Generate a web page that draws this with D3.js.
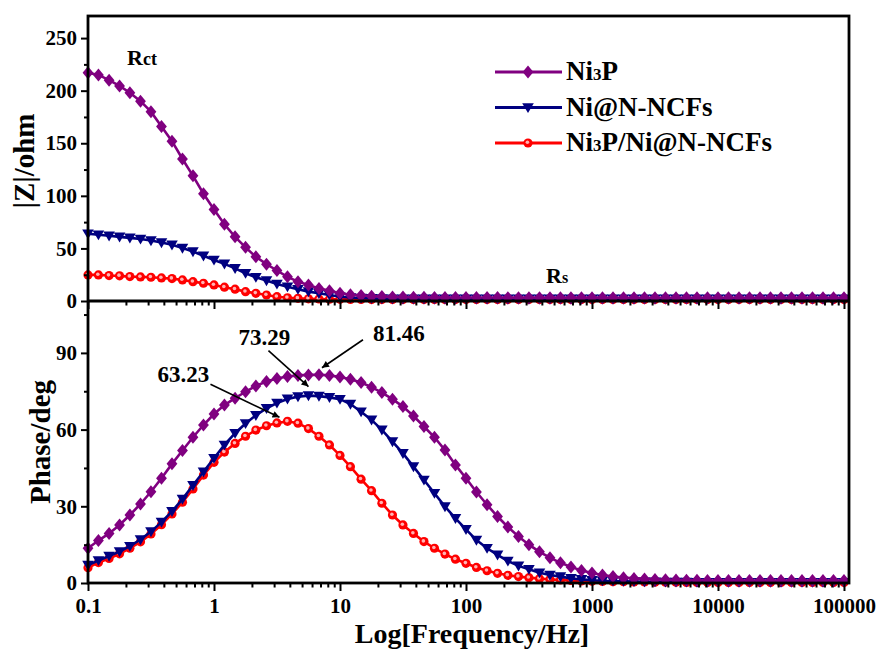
<!DOCTYPE html>
<html>
<head>
<meta charset="utf-8">
<script src="https://cdnjs.cloudflare.com/ajax/libs/d3/7.8.5/d3.min.js"></script>
<style>
  body { margin: 0; background: #fff; }
  svg { display: block; }
  text { font-family: "Liberation Serif", "Times New Roman", serif; font-weight: bold; fill: #000; }
</style>
</head>
<body>
<svg id="chart" width="876" height="659"></svg>
<script>
// frequencies, 12 points per decade (0.1 Hz .. 100 kHz)
const freq = [
  0.1, 0.121, 0.147, 0.178, 0.215, 0.261, 0.316, 0.383, 0.464, 0.562, 0.681, 0.825,
  1, 1.21, 1.47, 1.78, 2.15, 2.61, 3.16, 3.83, 4.64, 5.62, 6.81, 8.25,
  10, 12.1, 14.7, 17.8, 21.5, 26.1, 31.6, 38.3, 46.4, 56.2, 68.1, 82.5,
  100, 121, 147, 178, 215, 261, 316, 383, 464, 562, 681, 825,
  1000, 1211, 1468, 1778, 2154, 2610, 3162, 3831, 4642, 5623, 6813, 8254,
  10000, 12115, 14678, 17783, 21544, 26102, 31623, 38312, 46416, 56234, 68129, 82540,
  100000
];

// |Z| (ohm)
const zNi3P = [
  217, 215, 210, 204.5, 198, 190, 180, 166, 152, 135, 119, 102,
  87, 73, 61, 51, 42, 35, 29, 23, 18.4, 15.3, 12, 9.8,
  7.3, 6.0, 5.2, 4.6, 4.2, 3.9, 3.7, 3.6, 3.5, 3.4, 3.4, 3.3,
  3.3, 3.3, 3.3, 3.3, 3.2, 3.2, 3.2, 3.2, 3.2, 3.2, 3.2, 3.2,
  3.2, 3.2, 3.1, 3.1, 3.1, 3.1, 3.1, 3.1, 3.1, 3.1, 3.1, 3.1,
  3.1, 3.1, 3.1, 3.0, 3.0, 3.0, 3.0, 3.0, 3.0, 3.0, 3.0, 3.0,
  3.0
];
const zNiNCF = [
  64, 63, 62, 61, 60, 59, 57.5, 55.6, 53.4, 50.3, 47, 43,
  39, 35.3, 31, 26.4, 22.6, 19.4, 16.2, 13.6, 11.2, 8.9, 7.3, 5.7,
  4.1, 3.3, 2.8, 2.5, 2.3, 2.2, 2.1, 2.1, 2.0, 2.0, 2.0, 2.0,
  2.0, 2.0, 2.0, 2.0, 2.0, 2.0, 2.0, 2.0, 2.0, 2.0, 2.0, 2.0,
  2.0, 2.0, 2.0, 2.0, 2.0, 2.0, 2.0, 2.0, 2.0, 2.0, 2.0, 2.0,
  2.0, 2.0, 2.0, 2.0, 2.0, 2.0, 2.0, 2.0, 2.0, 2.0, 2.0, 2.0,
  2.0
];
const zComposite = [
  24.8, 24.8, 24.2, 23.9, 23.2, 22.9, 22.6, 21.9, 21.3, 20, 18.4, 16.9,
  15.3, 13.1, 11.2, 8.9, 7.3, 5.7, 4.1, 3.1, 2.5, 2.1, 1.9, 1.7,
  1.6, 1.5, 1.5, 1.4, 1.4, 1.4, 1.4, 1.4, 1.4, 1.4, 1.4, 1.4,
  1.4, 1.4, 1.4, 1.4, 1.4, 1.4, 1.4, 1.4, 1.4, 1.4, 1.4, 1.4,
  1.4, 1.4, 1.4, 1.4, 1.4, 1.4, 1.4, 1.4, 1.4, 1.4, 1.4, 1.4,
  1.4, 1.4, 1.4, 1.4, 1.4, 1.4, 1.4, 1.4, 1.4, 1.4, 1.4, 1.4,
  1.4
];

// phase (deg)
const pNi3P = [
  13.6, 16.6, 19.4, 22.7, 26.6, 30.9, 35.7, 41, 46.6, 51.8, 57, 61.8,
  66.1, 69.6, 72.3, 74.8, 77.1, 78.8, 80.0, 80.8, 81.2, 81.4, 81.46, 81.2,
  80.6, 79.7, 78.4, 76.6, 74.5, 71.9, 69, 65.3, 61.2, 57, 52, 46.2,
  41.0, 35.6, 30.6, 26.0, 21.9, 18.2, 15.0, 12.2, 9.9, 7.9, 6.3, 4.9,
  3.9, 3.1, 2.5, 2.1, 1.8, 1.6, 1.4, 1.3, 1.2, 1.1, 1.1, 1.0,
  1.0, 1.0, 1.0, 1.0, 1.0, 1.0, 1.0, 1.0, 1.0, 1.0, 1.0, 1.0,
  1.0
];
const pNiNCF = [
  7.0, 8.8, 10.5, 12.3, 14.4, 17.0, 20.1, 23.8, 28.0, 32.8, 38.2, 43.5,
  48.8, 54.0, 58.6, 62.4, 65.6, 68.3, 70.4, 72.0, 72.9, 73.29, 73.1, 72.6,
  71.9, 70, 67, 63.8, 59.9, 55.3, 50.7, 45.5, 40.3, 35.1, 29.9, 25.3,
  21, 16.8, 13.6, 11, 8.6, 6.7, 5.4, 4.0, 3.1, 2.5, 1.8, 1.4,
  1.1, 0.9, 0.8, 0.7, 0.6, 0.5, 0.5, 0.4, 0.4, 0.4, 0.3, 0.3,
  0.3, 0.3, 0.3, 0.3, 0.3, 0.3, 0.3, 0.3, 0.3, 0.3, 0.3, 0.3,
  0.3
];
const pComposite = [
  6.0, 8.0, 9.6, 11.4, 13.6, 16.1, 19.2, 22.8, 27.0, 31.6, 36.8, 42.2,
  47.2, 51.2, 54.6, 57.4, 59.8, 61.5, 62.6, 63.23, 62.5, 60.4, 57.4, 54.0,
  49.9, 45.5, 40.6, 36.1, 31.2, 26.6, 22.7, 19.4, 16.2, 13.6, 11.3, 9.3,
  7.7, 6.1, 4.8, 3.8, 3.0, 2.5, 2.1, 1.7, 1.4, 1.2, 1.0, 0.8,
  0.7, 0.6, 0.5, 0.5, 0.4, 0.4, 0.3, 0.3, 0.3, 0.2, 0.2, 0.2,
  0.2, 0.2, 0.2, 0.2, 0.2, 0.2, 0.2, 0.2, 0.2, 0.2, 0.2, 0.2,
  0.2
];

const xTicks = [0.1, 1, 10, 100, 1000, 10000, 100000];
const xTickLabels = ['0.1', '1', '10', '100', '1000', '10000', '100000'];
const zTicks = [0, 50, 100, 150, 200, 250];
const zMinor = [25, 75, 125, 175, 225];
const phaseTicks = [0, 30, 60, 90];
const phaseMinor = [15, 45, 75, 105];
const peakLabels = ['81.46', '73.29', '63.23'];

const svg = d3.select('#chart');
const plotL = 88, plotR = 849, plotT = 16, plotMid = 301, plotB = 583;

const x = d3.scaleLog().domain([0.1, 109600]).range([plotL, plotR]);
const yZ = d3.scaleLinear().domain([0, 271]).range([plotMid, plotT]);
const yP = d3.scaleLinear().domain([0, 110.3]).range([plotB, plotMid]);

const series = [
  { name: 'Ni3P/Ni@N-NCFs', color: '#ff0000', shape: 'ball', z: zComposite, p: pComposite },
  { name: 'Ni@N-NCFs', color: '#000080', shape: 'tri', z: zNiNCF, p: pNiNCF },
  { name: 'Ni3P', color: '#800080', shape: 'diamond', z: zNi3P, p: pNi3P }
];

function drawMarker(g, shape, color) {
  if (shape === 'diamond') {
    g.append('path').attr('d', 'M0,-6.5L5.4,0L0,6.5L-5.4,0Z').attr('fill', color);
  } else if (shape === 'tri') {
    g.append('path').attr('d', 'M-5.8,-4.3L5.8,-4.3L0,5.6Z').attr('fill', color);
  } else {
    g.append('circle').attr('r', 4.6).attr('fill', color);
    g.append('circle').attr('r', 1.8).attr('cx', -0.6).attr('cy', -0.7).attr('fill', '#ffb3b3');
  }
}

function drawSeries(yScale, key) {
  const layer = svg.append('g');
  series.forEach(s => {
    const line = d3.line().x((d, i) => x(freq[i])).y(d => yScale(d));
    layer.append('path')
      .attr('d', line(s[key]))
      .attr('fill', 'none')
      .attr('stroke', s.color)
      .attr('stroke-width', 2.6);
    s[key].forEach((v, i) => {
      const m = layer.append('g').attr('transform', `translate(${x(freq[i])},${yScale(v)})`);
      drawMarker(m, s.shape, s.color);
    });
  });
}

function styleAxis(g, fontSize) {
  g.select('.domain').remove();
  g.selectAll('.tick line').attr('stroke', '#000').attr('stroke-width', 2);
  g.selectAll('.tick text').style('font-size', fontSize + 'px').style('font-family', '"Liberation Serif", serif').style('font-weight', 'bold');
}

function drawYAxis(scale, major, minor) {
  const g = svg.append('g').attr('transform', `translate(${plotL},0)`);
  g.call(d3.axisLeft(scale).tickValues(major).tickSize(7).tickPadding(4).tickSizeOuter(0));
  styleAxis(g, 21);
  const gm = svg.append('g').attr('transform', `translate(${plotL},0)`);
  gm.call(d3.axisLeft(scale).tickValues(minor).tickSize(4).tickFormat('').tickSizeOuter(0));
  styleAxis(gm, 21);
}

function drawXAxis(yPos, withLabels) {
  const minor = [];
  for (let d = 0.1; d < 100000; d *= 10) {
    for (let k = 2; k <= 9; k++) minor.push(+(d * k).toPrecision(3));
  }
  const g = svg.append('g').attr('transform', `translate(0,${yPos})`);
  g.call(d3.axisBottom(x).tickValues(xTicks).tickSize(8).tickPadding(7).tickSizeOuter(0)
    .tickFormat((d, i) => withLabels ? xTickLabels[i] : ''));
  styleAxis(g, 21);
  const gm = svg.append('g').attr('transform', `translate(0,${yPos})`);
  gm.call(d3.axisBottom(x).tickValues(minor).tickSize(4.5).tickFormat('').tickSizeOuter(0));
  styleAxis(gm, 21);
}

drawSeries(yZ, 'z');
drawSeries(yP, 'p');

drawYAxis(yZ, zTicks, zMinor);
drawYAxis(yP, phaseTicks, phaseMinor);
drawXAxis(plotMid, false);
drawXAxis(plotB, true);

// frame
svg.append('rect')
  .attr('x', plotL).attr('y', plotT)
  .attr('width', plotR - plotL).attr('height', plotB - plotT)
  .attr('fill', 'none').attr('stroke', '#000').attr('stroke-width', 2.8);
svg.append('line')
  .attr('x1', plotL).attr('x2', plotR).attr('y1', plotMid).attr('y2', plotMid)
  .attr('stroke', '#000').attr('stroke-width', 2.8);

// axis titles
svg.append('text')
  .attr('transform', 'translate(34,161) rotate(-90)')
  .attr('text-anchor', 'middle')
  .style('font-size', '29px')
  .text('|Z|/ohm');
svg.append('text')
  .attr('transform', 'translate(50,442) rotate(-90)')
  .attr('text-anchor', 'middle')
  .style('font-size', '29px')
  .text('Phase/deg');
svg.append('text')
  .attr('x', 472).attr('y', 643)
  .attr('text-anchor', 'middle')
  .style('font-size', '28px')
  .text('Log[Frequency/Hz]');

// Rct / Rs labels
const rct = svg.append('text').attr('x', 127).attr('y', 65).style('font-size', '22px');
rct.append('tspan').text('R');
rct.append('tspan').style('font-size', '18px').text('ct');
const rs = svg.append('text').attr('x', 546).attr('y', 283).style('font-size', '22px');
rs.append('tspan').text('R');
rs.append('tspan').style('font-size', '16px').text('s');

// peak annotations
svg.append('defs').append('marker')
  .attr('id', 'arrow')
  .attr('viewBox', '0 0 10 10')
  .attr('refX', 10).attr('refY', 5)
  .attr('markerWidth', 9).attr('markerHeight', 7)
  .attr('markerUnits', 'userSpaceOnUse')
  .attr('orient', 'auto')
  .append('path').attr('d', 'M0,0L10,5L0,10Z').attr('fill', '#000');

const notes = [
  { s: pNi3P, tip: [3, -7], tail: [44, -35], text: [80, -34] },
  { s: pNiNCF, tip: [0, -9], tail: [-40, -45], text: [-44, -51] },
  { s: pComposite, tip: [-8, -4], tail: [-77, -37], text: [-104, -39] }
];
notes.forEach((n, k) => {
  const peak = d3.maxIndex(n.s);
  const px = x(freq[peak]), py = yP(n.s[peak]);
  svg.append('line')
    .attr('x1', px + n.tail[0]).attr('y1', py + n.tail[1])
    .attr('x2', px + n.tip[0]).attr('y2', py + n.tip[1])
    .attr('stroke', '#000').attr('stroke-width', 1.6)
    .attr('marker-end', 'url(#arrow)');
  svg.append('text')
    .attr('x', px + n.text[0]).attr('y', py + n.text[1])
    .attr('text-anchor', 'middle')
    .style('font-size', '23px')
    .text(peakLabels[k]);
});

// legend
const legendNames = [
  ['Ni', '3', 'P'],
  ['Ni@N-NCFs'],
  ['Ni', '3', 'P/Ni@N-NCFs']
];
const legendOrder = [2, 1, 0];
legendOrder.forEach((si, row) => {
  const s = series[si];
  const ly = 72 + row * 35.5;
  svg.append('line')
    .attr('x1', 495).attr('x2', 562).attr('y1', ly).attr('y2', ly)
    .attr('stroke', s.color).attr('stroke-width', 2.8);
  drawMarker(svg.append('g').attr('transform', `translate(528,${ly})`), s.shape, s.color);
  const t = svg.append('text').attr('x', 566).attr('y', ly + 8).style('font-size', '27px');
  legendNames[row].forEach((part, j) => {
    t.append('tspan').style('font-size', j === 1 ? '17px' : '27px').text(part);
  });
});
</script>
</body>
</html>
